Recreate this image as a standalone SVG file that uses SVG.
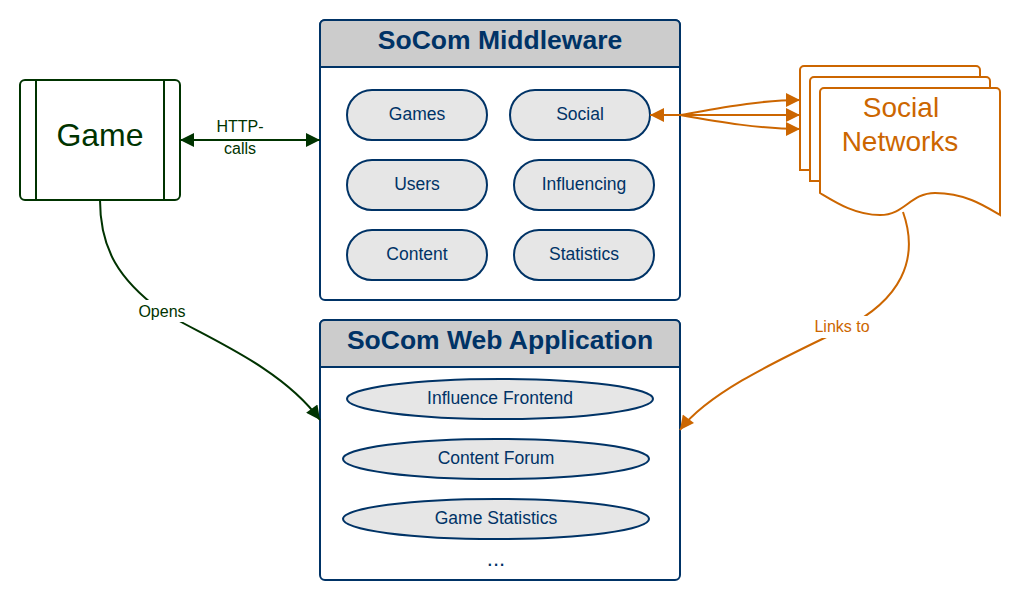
<svg xmlns="http://www.w3.org/2000/svg" width="1027" height="598" viewBox="0 0 1027 598">
<defs>
<style>
.frame{fill:#fff;stroke:#003366;stroke-width:2}
.hdr{fill:#cccccc;stroke:#003366;stroke-width:2}
.title{font-family:"Liberation Sans",Arial,sans-serif;font-weight:bold;font-size:26.5px;fill:#003366;text-anchor:middle}
.pill{fill:#e6e6e6;stroke:#003366;stroke-width:2}
.lbl{font-family:"Liberation Sans",Arial,sans-serif;font-size:17.5px;fill:#003366;text-anchor:middle}
.g{stroke:#003300;stroke-width:2;fill:none}
.o{stroke:#cc6600;stroke-width:2;fill:none}
.doc{fill:#fff;stroke:#cc6600;stroke-width:2}
.el{font-family:"Liberation Sans",Arial,sans-serif;font-size:16px;text-anchor:middle}
</style>
<marker id="ag2" viewBox="0 0 10 10" refX="10" refY="5" markerWidth="16" markerHeight="14" markerUnits="userSpaceOnUse" orient="auto-start-reverse"><path d="M0,0 L10,5 L0,10 z" fill="#003300"/></marker>
<marker id="ao" viewBox="0 0 10 10" refX="10" refY="5" markerWidth="16" markerHeight="14" markerUnits="userSpaceOnUse" orient="auto-start-reverse"><path d="M0,0 L10,5 L0,10 z" fill="#cc6600"/></marker>
</defs>

<g id="game">
<rect x="20" y="80" width="160" height="120" rx="5" fill="#fff" stroke="#003300" stroke-width="2"/>
<line x1="36" y1="80" x2="36" y2="200" stroke="#003300" stroke-width="2"/>
<line x1="164" y1="80" x2="164" y2="200" stroke="#003300" stroke-width="2"/>
<text x="100" y="146" font-family="Liberation Sans,Arial,sans-serif" font-size="32" fill="#003300" text-anchor="middle">Game</text>
</g>

<g id="middleware">
<path class="frame" d="M320,25 a5,5 0 0 1 5,-5 h350 a5,5 0 0 1 5,5 v270 a5,5 0 0 1 -5,5 h-350 a5,5 0 0 1 -5,-5 z"/>
<path class="hdr" d="M320,67 v-42 a5,5 0 0 1 5,-5 h350 a5,5 0 0 1 5,5 v42 z"/>
<text class="title" x="500" y="49">SoCom Middleware</text>
<g id="mw-games"><rect class="pill" x="347" y="90" width="140" height="50" rx="25"/><text class="lbl" x="417" y="120">Games</text></g>
<g id="mw-social"><rect class="pill" x="510" y="90" width="140" height="50" rx="25"/><text class="lbl" x="580" y="120">Social</text></g>
<g id="mw-users"><rect class="pill" x="347" y="160" width="140" height="50" rx="25"/><text class="lbl" x="417" y="190">Users</text></g>
<g id="mw-influencing"><rect class="pill" x="514" y="160" width="140" height="50" rx="25"/><text class="lbl" x="584" y="190">Influencing</text></g>
<g id="mw-content"><rect class="pill" x="347" y="230" width="140" height="50" rx="25"/><text class="lbl" x="417" y="260">Content</text></g>
<g id="mw-statistics"><rect class="pill" x="514" y="230" width="140" height="50" rx="25"/><text class="lbl" x="584" y="260">Statistics</text></g>
</g>

<g id="webapp">
<path class="frame" d="M320,325 a5,5 0 0 1 5,-5 h350 a5,5 0 0 1 5,5 v250 a5,5 0 0 1 -5,5 h-350 a5,5 0 0 1 -5,-5 z"/>
<path class="hdr" d="M320,367 v-42 a5,5 0 0 1 5,-5 h350 a5,5 0 0 1 5,5 v42 z"/>
<text class="title" x="500" y="349">SoCom Web Application</text>
<g id="wa-influence"><ellipse class="pill" cx="500" cy="399" rx="153" ry="20"/><text class="lbl" x="500" y="404">Influence Frontend</text></g>
<g id="wa-forum"><ellipse class="pill" cx="496" cy="459" rx="153" ry="20"/><text class="lbl" x="496" y="464">Content Forum</text></g>
<g id="wa-stats"><ellipse class="pill" cx="496" cy="519" rx="153" ry="20"/><text class="lbl" x="496" y="524">Game Statistics</text></g>
<text class="lbl" x="496" y="566" style="font-size:22px">...</text>
</g>

<g id="social-networks">
<path class="doc" d="M800,70 a4,4 0 0 1 4,-4 h172 a4,4 0 0 1 4,4 v100 L800,170 z"/>
<path class="doc" d="M810,81 a4,4 0 0 1 4,-4 h172 a4,4 0 0 1 4,4 v100 L810,181 z"/>
<path class="doc" d="M820,92 a4,4 0 0 1 4,-4 h172 a4,4 0 0 1 4,4 v123 C985,206 965,193 935,193 C910,193 905,215 880,215 C855,215 835,202 820,193 z"/>
<text x="901" y="117" font-family="Liberation Sans,Arial,sans-serif" font-size="28" fill="#cc6600" text-anchor="middle">Social</text>
<text x="900" y="151" font-family="Liberation Sans,Arial,sans-serif" font-size="28" fill="#cc6600" text-anchor="middle">Networks</text>
</g>

<g id="connectors">
<path class="g" d="M180,140 H320" marker-start="url(#ag2)" marker-end="url(#ag2)"/>
<rect x="210" y="118" width="60" height="11" fill="#fff"/>
<text class="el" x="240" y="132" fill="#003300">HTTP-</text>
<text class="el" x="240" y="154" fill="#003300">calls</text>

<path class="g" d="M100,200 C100,250 120,280 160,310 C200,335 280,365 320,420" marker-end="url(#ag2)"/>
<rect x="132" y="300" width="60" height="22" fill="#fff"/>
<text class="el" x="162" y="317" fill="#003300">Opens</text>

<path class="o" d="M650,115 H680" marker-start="url(#ao)"/>
<path class="o" d="M680,115 C720,108 760,100 800,100" marker-end="url(#ao)"/>
<path class="o" d="M680,115 H800" marker-end="url(#ao)"/>
<path class="o" d="M680,115 C720,122 760,129 800,129" marker-end="url(#ao)"/>

<path class="o" d="M903,212 C920,260 900,300 845,328 C790,355 710,390 680,430" marker-end="url(#ao)"/>
<rect x="808" y="316" width="70" height="22" fill="#fff"/>
<text class="el" x="842" y="332" fill="#cc6600">Links to</text>
</g>
</svg>
